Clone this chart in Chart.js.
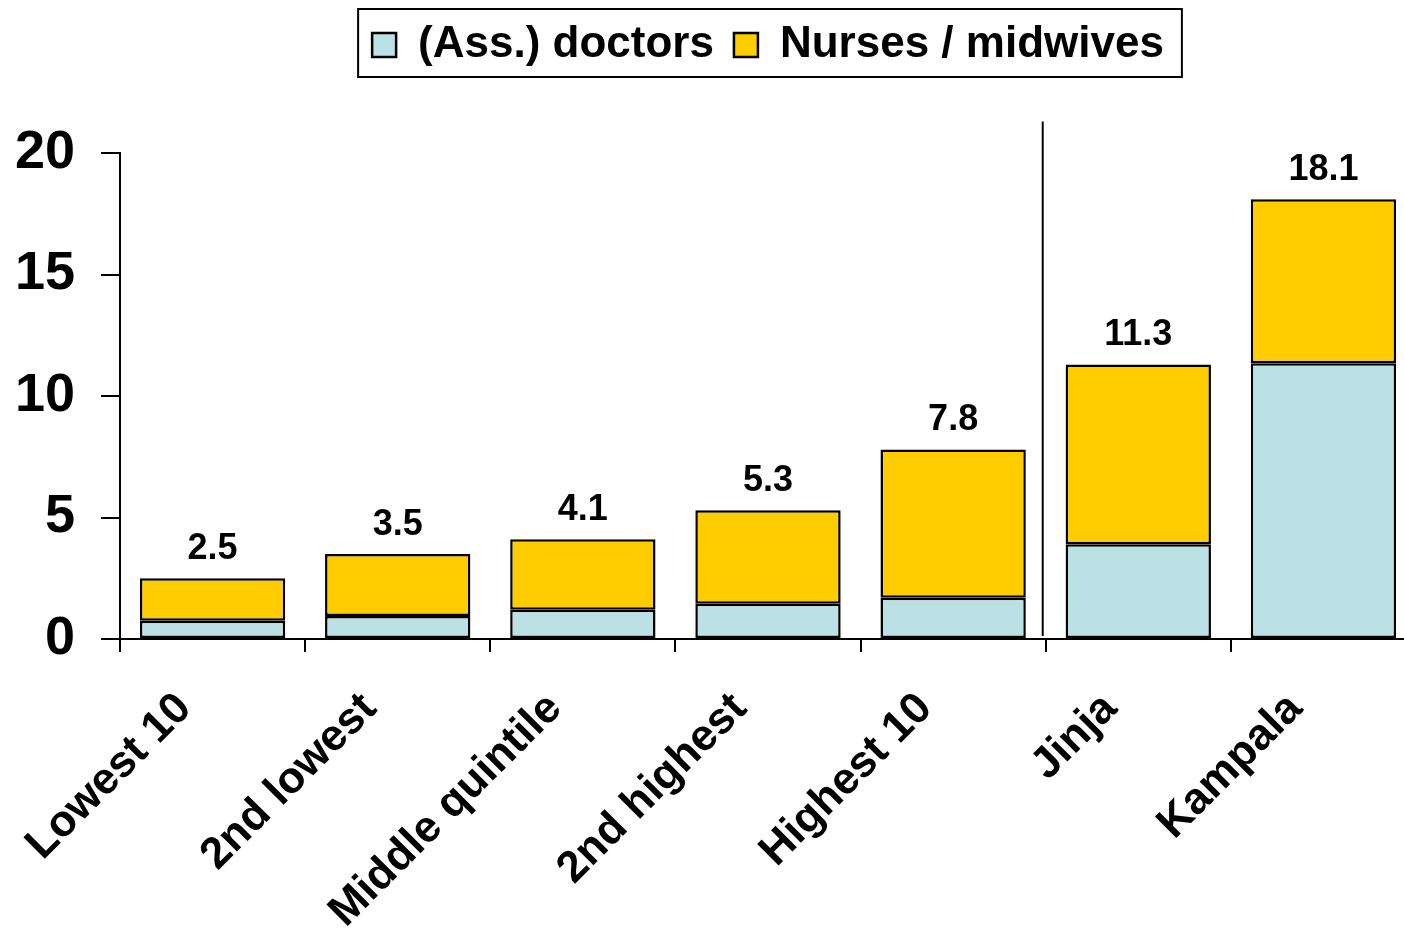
<!DOCTYPE html>
<html>
<head>
<meta charset="utf-8">
<title>Health workers per 10,000</title>
<script src="https://cdn.jsdelivr.net/npm/chart.js@4"></script>
<style>
  html, body { margin: 0; padding: 0; background: #fff; overflow: hidden; }
  #wrap { width: 1416px; height: 930px; }
</style>
</head>
<body>
<div id="wrap"><canvas id="chart" width="1416" height="930"></canvas></div>
<script>
const categories = ['Lowest 10', '2nd lowest', 'Middle quintile', '2nd highest', 'Highest 10', 'Jinja', 'Kampala'];
const doctors = [0.75, 0.95, 1.2, 1.45, 1.7, 3.9, 11.35];
const nurses = [1.75, 2.55, 2.9, 3.85, 6.1, 7.4, 6.75];
const totals = ['2.5', '3.5', '4.1', '5.3', '7.8', '11.3', '18.1'];
const yTicks = [0, 5, 10, 15, 20];

const FONT = '"Liberation Sans", Arial, sans-serif';

// totals above each stack + the divider between quintiles and districts
const extras = {
    id: 'extras',
    afterDatasetsDraw(chart) {
        const ctx = chart.ctx;
        const meta = chart.getDatasetMeta(1);
        ctx.save();
        ctx.fillStyle = '#000';
        ctx.font = 'bold 36px ' + FONT;
        ctx.textAlign = 'center';
        ctx.textBaseline = 'alphabetic';
        meta.data.forEach((bar, i) => {
            ctx.fillText(totals[i], bar.x, bar.y - 19);
        });

        const x = chart.scales.x;
        const y = chart.scales.y;
        const sepX = (x.getPixelForValue(4) + x.getPixelForValue(5)) / 2 - 3;
        ctx.strokeStyle = '#000';
        ctx.lineWidth = 2;
        ctx.beginPath();
        ctx.moveTo(sepX, y.getPixelForValue(21.3));
        ctx.lineTo(sepX, y.getPixelForValue(0) - 3);
        ctx.stroke();
        ctx.restore();
    },
    afterDraw(chart) {
        // frame round the legend
        const boxes = chart.legend.legendHitBoxes;
        if (!boxes || !boxes.length) return;
        const left = Math.min(...boxes.map(b => b.left)) - 14;
        const right = Math.max(...boxes.map(b => b.left + b.width)) + 18;
        const top = boxes[0].top - 14;
        const bottom = boxes[0].top + boxes[0].height + 10;
        const ctx = chart.ctx;
        ctx.save();
        ctx.strokeStyle = '#000';
        ctx.lineWidth = 2;
        ctx.strokeRect(left, top, right - left, bottom - top);
        ctx.restore();
    }
};

new Chart(document.getElementById('chart'), {
    type: 'bar',
    data: {
        labels: categories,
        datasets: [
            {
                label: '(Ass.) doctors',
                data: doctors,
                backgroundColor: '#bce1e4',
                borderColor: '#000',
                borderWidth: 2.5,
                borderSkipped: false,
                barPercentage: 0.785,
                categoryPercentage: 1
            },
            {
                label: 'Nurses / midwives',
                data: nurses,
                backgroundColor: '#ffcc00',
                borderColor: '#000',
                borderWidth: 2.5,
                borderSkipped: false,
                barPercentage: 0.785,
                categoryPercentage: 1
            }
        ]
    },
    options: {
        responsive: false,
        animation: false,
        layout: { padding: { top: 3, right: 0, bottom: 0, left: 0 } },
        plugins: {
            tooltip: { enabled: false },
            legend: {
                position: 'top',
                fullSize: false,
                labels: {
                    color: '#000',
                    font: { family: FONT, size: 44, weight: 'bold' },
                    boxWidth: 24,
                    boxHeight: 24,
                    padding: 20
                }
            },
            // empty spacer between legend and plot
            subtitle: {
                display: true,
                text: '',
                weight: 500,
                fullSize: false,
                font: { size: 10 },
                padding: { top: 0, bottom: 64 }
            }
        },
        scales: {
            x: {
                stacked: true,
                afterFit(scale) { scale.height = 291; },
                border: { display: true, color: '#000', width: 2 },
                grid: {
                    display: true,
                    offset: true,
                    drawOnChartArea: false,
                    drawTicks: true,
                    tickLength: 13,
                    color: '#000',
                    lineWidth: 2
                },
                ticks: {
                    autoSkip: false,
                    minRotation: 45,
                    maxRotation: 45,
                    labelOffset: -28,
                    padding: 31,
                    color: '#000',
                    font: { family: FONT, size: 44, weight: 'bold' }
                }
            },
            y: {
                stacked: true,
                min: 0,
                max: 20,
                afterFit(scale) { scale.width = 120; },
                afterBuildTicks(scale) { scale.ticks = yTicks.map(v => ({ value: v })); },
                border: { display: true, color: '#000', width: 2 },
                grid: {
                    display: true,
                    drawOnChartArea: false,
                    drawTicks: true,
                    tickLength: 19,
                    color: '#000',
                    lineWidth: 2
                },
                ticks: {
                    padding: 26,
                    color: '#000',
                    font: { family: FONT, size: 54, weight: 'bold' }
                }
            }
        }
    },
    plugins: [extras]
});
</script>
</body>
</html>
